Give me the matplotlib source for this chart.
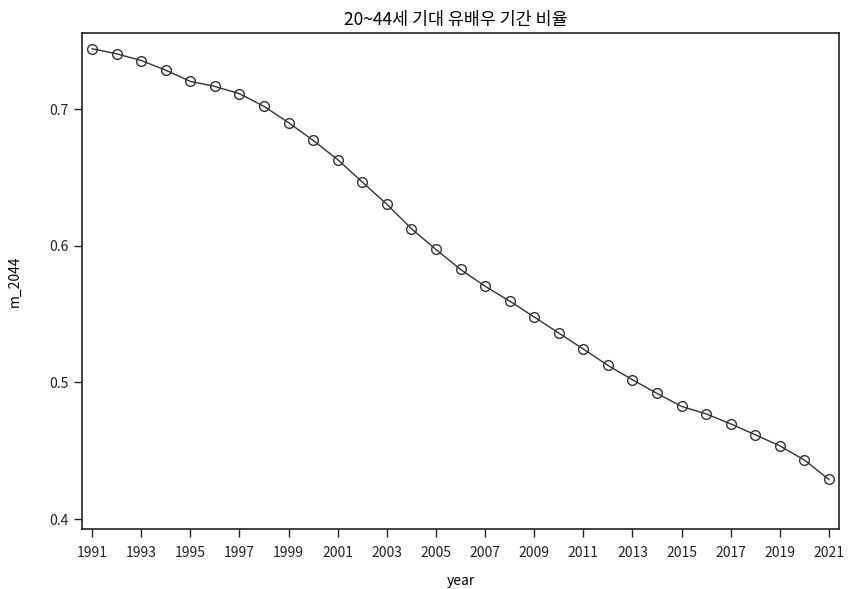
import numpy as np
import matplotlib
matplotlib.use("Agg")
import matplotlib.pyplot as plt

plt.rcParams['font.family'] = ['Noto Sans CJK KR', 'DejaVu Sans']

# values
years = list(range(1991, 2022))
m_2044 = [0.7444, 0.7407, 0.7358, 0.7287, 0.7205, 0.7168, 0.7115, 0.7022,
          0.6903, 0.6773, 0.6632, 0.6468, 0.6305, 0.6127, 0.5974, 0.5828,
          0.5705, 0.5596, 0.5480, 0.5362, 0.5245, 0.5125, 0.5020, 0.4920,
          0.4825, 0.4770, 0.4697, 0.4617, 0.4536, 0.4432, 0.4290]
xticks = list(range(1991, 2022, 2))
yticks = [0.4, 0.5, 0.6, 0.7]
title = "20~44세 기대 유배우 기간 비율"

fig = plt.figure(figsize=(8.48, 5.89), dpi=100)
ax = fig.add_axes([0.0967, 0.1014, 0.8930, 0.8434])

ax.plot(years, m_2044, color="#333333", lw=1.0, marker="o", ms=7,
        mfc="none", mec="#333333", mew=1.0)

ax.set_xlim(1990.59, 2021.42)
ax.set_ylim(0.3925, 0.7563)
ax.set_xticks(xticks)
ax.set_yticks(yticks)
ax.set_yticklabels(["0.4", "0.5", "0.6", "0.7"])
ax.tick_params(direction="out", length=6, width=1, labelsize=10, colors="#222222")
ax.tick_params(axis="x", pad=6)
for s in ax.spines.values():
    s.set_linewidth(1.2)
    s.set_color("#222222")

ax.set_xlabel("year", fontsize=10, labelpad=10)
ax.set_ylabel("m_2044", fontsize=10, labelpad=20)
fig.text(0.5375, 0.966, title, ha="center", va="center", fontsize=12.5)

fig.savefig("out.png", dpi=100)
